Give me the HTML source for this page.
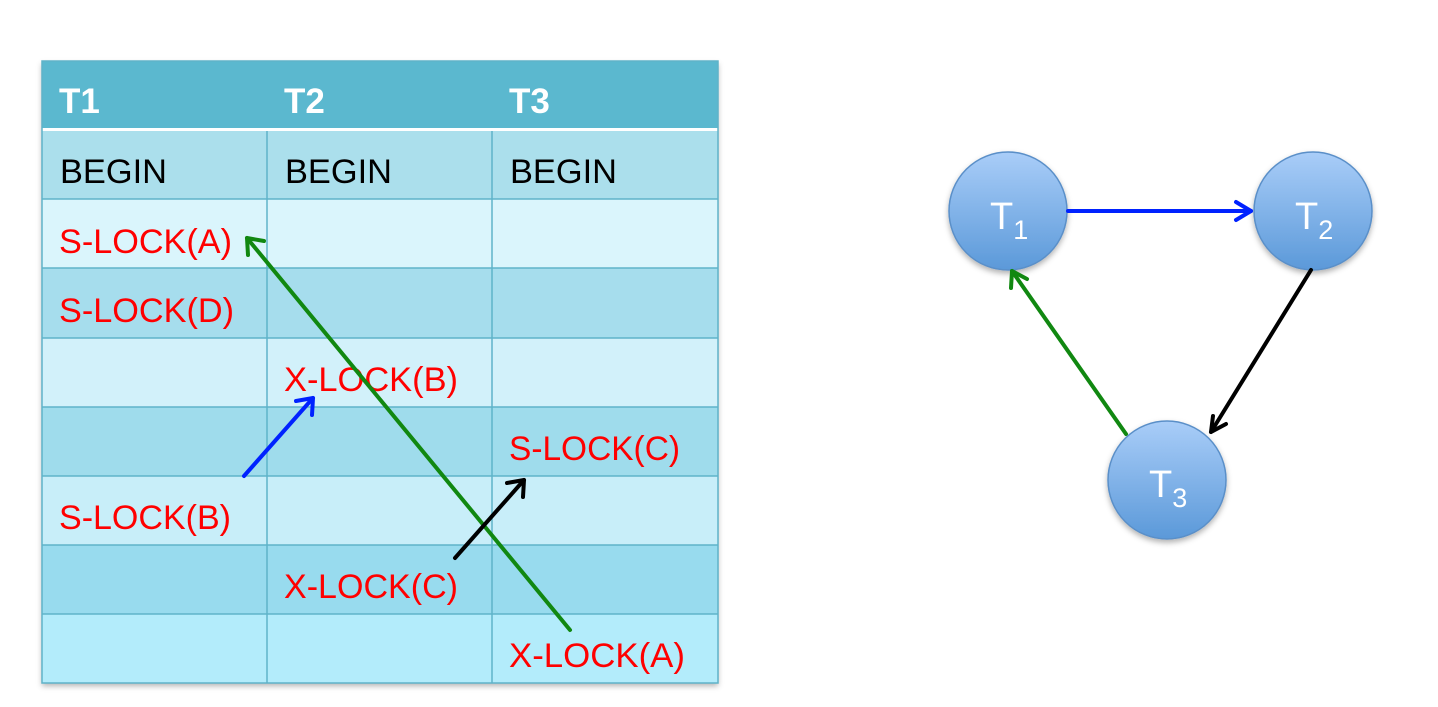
<!DOCTYPE html>
<html><head><meta charset="utf-8"><style>
body{margin:0;width:1438px;height:702px;background:#fff;overflow:hidden;font-family:"Liberation Sans",sans-serif;}
</style></head><body>
<svg width="1438" height="702" viewBox="0 0 1438 702" xmlns="http://www.w3.org/2000/svg" font-family="Liberation Sans, sans-serif">
<defs>
<linearGradient id="cg" x1="0" y1="0" x2="0" y2="1"><stop offset="0" stop-color="#a9cdf8"/><stop offset="1" stop-color="#5b99d9"/></linearGradient>
<filter id="sh" x="-20%" y="-20%" width="140%" height="140%"><feDropShadow dx="0" dy="3" stdDeviation="3" flood-color="#000" flood-opacity="0.3"/></filter>
</defs>
<g filter="url(#sh)">
<rect x="42" y="61" width="676" height="622" fill="#5bb8cf"/>
</g>
<rect x="42" y="61" width="676" height="67" fill="#5bb8cf"/>
<rect x="42" y="128" width="676" height="3" fill="#fff"/>
<rect x="42" y="131" width="676" height="68" fill="#abdfec"/>
<rect x="42" y="199" width="676" height="69" fill="#daf5fc"/>
<rect x="42" y="268" width="676" height="70" fill="#a6dded"/>
<rect x="42" y="338" width="676" height="69" fill="#d2f1fa"/>
<rect x="42" y="407" width="676" height="69" fill="#9fdcec"/>
<rect x="42" y="476" width="676" height="69" fill="#c8eef9"/>
<rect x="42" y="545" width="676" height="69" fill="#98dbee"/>
<rect x="42" y="614" width="676" height="69" fill="#b3ecfb"/>
<g stroke="#5fb3c9" stroke-width="1.5">
<line x1="267" y1="131" x2="267" y2="683"/><line x1="492" y1="131" x2="492" y2="683"/>
<line x1="42" y1="199" x2="718" y2="199"/><line x1="42" y1="268" x2="718" y2="268"/>
<line x1="42" y1="338" x2="718" y2="338"/><line x1="42" y1="407" x2="718" y2="407"/>
<line x1="42" y1="476" x2="718" y2="476"/><line x1="42" y1="545" x2="718" y2="545"/>
<line x1="42" y1="614" x2="718" y2="614"/>
<rect x="42" y="61" width="676" height="622" fill="none"/>
</g>
<g fill="#fff" font-weight="bold" font-size="35">
<text x="59" y="113">T1</text><text x="284" y="113">T2</text><text x="509" y="113">T3</text>
</g>
<g fill="#000" font-size="34">
<text x="60" y="183" textLength="107" lengthAdjust="spacingAndGlyphs">BEGIN</text><text x="285" y="183" textLength="107" lengthAdjust="spacingAndGlyphs">BEGIN</text><text x="510" y="183" textLength="107" lengthAdjust="spacingAndGlyphs">BEGIN</text>
</g>
<g fill="#f00" font-size="34">
<text x="59" y="253" textLength="173" lengthAdjust="spacingAndGlyphs">S-LOCK(A)</text>
<text x="59" y="322" textLength="175" lengthAdjust="spacingAndGlyphs">S-LOCK(D)</text>
<text x="284" y="391" textLength="174" lengthAdjust="spacingAndGlyphs">X-LOCK(B)</text>
<text x="509" y="460" textLength="171" lengthAdjust="spacingAndGlyphs">S-LOCK(C)</text>
<text x="59" y="529" textLength="172" lengthAdjust="spacingAndGlyphs">S-LOCK(B)</text>
<text x="284" y="598" textLength="174" lengthAdjust="spacingAndGlyphs">X-LOCK(C)</text>
<text x="509" y="667" textLength="176" lengthAdjust="spacingAndGlyphs">X-LOCK(A)</text>
</g>
<g fill="none" stroke-width="4" stroke-linecap="round" stroke-linejoin="round">
<line x1="570" y1="630" x2="247" y2="238" stroke="#118811"/>
<polyline points="248,255 247,238 264,241" stroke="#118811"/>
<line x1="244" y1="476" x2="313" y2="398" stroke="#0022ff"/>
<polyline points="296,401 313,398 312,415" stroke="#0022ff"/>
<line x1="455" y1="558" x2="524" y2="480" stroke="#000"/>
<polyline points="507,483 524,480 523,497" stroke="#000"/>
</g>
<g filter="url(#sh)">
<circle cx="1008" cy="211" r="59" fill="url(#cg)" stroke="#5a8fc8" stroke-width="1.5"/>
<circle cx="1313" cy="211" r="59" fill="url(#cg)" stroke="#5a8fc8" stroke-width="1.5"/>
<circle cx="1167" cy="480" r="59" fill="url(#cg)" stroke="#5a8fc8" stroke-width="1.5"/>
</g>
<g fill="#fff" font-size="38">
<text x="990" y="229">T<tspan font-size="27" dy="10">1</tspan></text>
<text x="1295" y="229">T<tspan font-size="27" dy="10">2</tspan></text>
<text x="1149" y="497">T<tspan font-size="27" dy="10">3</tspan></text>
</g>
<g fill="none" stroke-width="4" stroke-linecap="round" stroke-linejoin="round">
<line x1="1068" y1="211" x2="1251" y2="211" stroke="#0022ff"/>
<polyline points="1236,202 1251,211 1236,220" stroke="#0022ff"/>
<line x1="1311" y1="270" x2="1211" y2="432" stroke="#000"/>
<polyline points="1213,416 1211,432 1226,424" stroke="#000"/>
<line x1="1126" y1="434" x2="1012" y2="271" stroke="#118811"/>
<polyline points="1011,288 1012,271 1027,279" stroke="#118811"/>
</g>
</svg>
</body></html>
